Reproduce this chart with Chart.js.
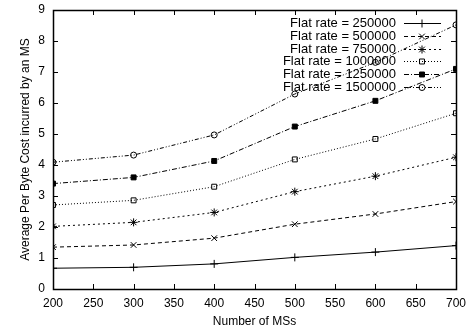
<!DOCTYPE html>
<html>
<head>
<meta charset="utf-8">
<script src="https://cdn.jsdelivr.net/npm/chart.js@4/dist/chart.umd.min.js"></script>
<style>
  html, body { margin: 0; padding: 0; background: #fff; }
  #wrap { width: 471px; height: 332px; }
</style>
</head>
<body>
<div id="wrap"><canvas id="costChart" width="471" height="332"></canvas></div>
<script>
// number of MSs on the x axis
var msCounts = [200, 300, 400, 500, 600, 700];

// average per byte cost, one array per flat rate
var rate250000 = [0.67, 0.70, 0.81, 1.02, 1.19, 1.40];
var rate500000 = [1.35, 1.42, 1.64, 2.09, 2.42, 2.82];
var rate750000 = [2.02, 2.15, 2.47, 3.14, 3.64, 4.25];
var rate1000000 = [2.71, 2.86, 3.30, 4.18, 4.84, 5.67];
var rate1250000 = [3.40, 3.60, 4.13, 5.24, 6.07, 7.10];
var rate1500000 = [4.09, 4.32, 4.97, 6.29, 7.31, 8.52];

var seriesLabels = [
    'Flat rate = 250000',
    'Flat rate = 500000',
    'Flat rate = 750000',
    'Flat rate = 1000000',
    'Flat rate = 1250000',
    'Flat rate = 1500000'
];

var xTicks = [200, 250, 300, 350, 400, 450, 500, 550, 600, 650, 700];
var yTicks = [0, 1, 2, 3, 4, 5, 6, 7, 8, 9];

var FONT = "'Liberation Sans', Arial, Helvetica, sans-serif";

function toPoints(values) {
    return msCounts.map((m, i) => ({ x: m, y: values[i] }));
}

function makeSet(label, values, style, dash, fill, radius) {
    return {
        label: label,
        data: toPoints(values),
        borderColor: '#000',
        borderWidth: 1,
        borderDash: dash,
        pointStyle: style,
        pointRadius: radius,
        pointBorderColor: '#000',
        pointBorderWidth: 1,
        pointBackgroundColor: fill ? '#000' : 'rgba(0,0,0,0)',
        fill: false,
        tension: 0
    };
}

var datasets = [
    makeSet(seriesLabels[0], rate250000, 'cross', [], false, 4),
    makeSet(seriesLabels[1], rate500000, 'crossRot', [4, 3], false, 4),
    makeSet(seriesLabels[2], rate750000, 'star', [2, 3], false, 4),
    makeSet(seriesLabels[3], rate1000000, 'rect', [1, 2], false, 3.5),
    makeSet(seriesLabels[4], rate1250000, 'rect', [5, 2, 1, 2], true, 3.5),
    makeSet(seriesLabels[5], rate1500000, 'circle', [4, 2, 1, 2, 1, 2], false, 3)
];

// box around the plot with gnuplot style inward ticks
var framePlugin = {
    id: 'frame',
    afterDatasetsDraw(chart) {
        var ctx = chart.ctx;
        var a = chart.chartArea;
        var xs = chart.scales.x, ys = chart.scales.y;
        var len = 5;
        ctx.save();
        ctx.strokeStyle = '#000';
        ctx.lineWidth = 1;
        ctx.setLineDash([]);
        ctx.beginPath();
        xTicks.forEach(v => {
            var px = Math.round(xs.getPixelForValue(v)) + 0.5;
            ctx.moveTo(px, a.bottom); ctx.lineTo(px, a.bottom - len);
            ctx.moveTo(px, a.top); ctx.lineTo(px, a.top + len);
        });
        yTicks.forEach(v => {
            var py = Math.round(ys.getPixelForValue(v)) + 0.5;
            ctx.moveTo(a.left, py); ctx.lineTo(a.left + len, py);
            ctx.moveTo(a.right, py); ctx.lineTo(a.right - len, py);
        });
        ctx.stroke();
        ctx.lineWidth = 1.5;
        ctx.strokeRect(Math.round(a.left) + 0.5, Math.round(a.top) + 0.5,
            Math.round(a.right - a.left), Math.round(a.bottom - a.top));
        ctx.restore();
    }
};

// key in the top right corner: text right aligned, sample to its right
var keyPlugin = {
    id: 'key',
    afterDraw(chart) {
        var ctx = chart.ctx;
        var textRight = 396, lineStart = 404, lineEnd = 441, markX = 422;
        var rowY = 23, rowStep = 12.8;
        ctx.save();
        ctx.font = '13px ' + FONT;
        ctx.textAlign = 'right';
        ctx.textBaseline = 'middle';
        chart.data.datasets.forEach((ds, i) => {
            var y = Math.round(rowY + i * rowStep) + 0.5;
            ctx.fillStyle = '#000';
            ctx.fillText(ds.label, textRight, y);
            ctx.strokeStyle = '#000';
            ctx.lineWidth = 1;
            ctx.setLineDash(ds.borderDash);
            ctx.beginPath();
            ctx.moveTo(lineStart, y);
            ctx.lineTo(lineEnd, y);
            ctx.stroke();
            ctx.setLineDash([]);
            ctx.fillStyle = ds.pointBackgroundColor;
            Chart.helpers.drawPoint(ctx, {
                pointStyle: ds.pointStyle,
                radius: ds.pointRadius,
                rotation: 0,
                borderWidth: 1
            }, markX, y);
        });
        ctx.restore();
    }
};

new Chart(document.getElementById('costChart'), {
    type: 'line',
    data: { datasets: datasets },
    options: {
        responsive: false,
        animation: false,
        layout: { padding: { top: 10, right: 15, left: 0, bottom: 0 } },
        plugins: {
            legend: { display: false },
            tooltip: { enabled: false }
        },
        scales: {
            x: {
                type: 'linear',
                min: 200,
                max: 700,
                afterFit: s => { s.height = 43; s.paddingLeft = 0; s.paddingRight = 0; },
                afterBuildTicks: s => { s.ticks = xTicks.map(v => ({ value: v })); },
                grid: { display: false, drawTicks: false },
                border: { display: false },
                ticks: {
                    color: '#000',
                    font: { family: FONT, size: 12 },
                    padding: 7,
                    maxRotation: 0
                },
                title: {
                    display: true,
                    text: 'Number of MSs',
                    color: '#000',
                    font: { family: FONT, size: 12 },
                    padding: { top: 0, bottom: 3 }
                }
            },
            y: {
                min: 0,
                max: 9,
                afterFit: s => { s.width = 53; s.paddingTop = 0; s.paddingBottom = 0; },
                afterBuildTicks: s => { s.ticks = yTicks.map(v => ({ value: v })); },
                grid: { display: false, drawTicks: false },
                border: { display: false },
                ticks: {
                    color: '#000',
                    font: { family: FONT, size: 12 },
                    padding: 8
                },
                title: {
                    display: true,
                    text: 'Average Per Byte Cost incurred by an MS',
                    color: '#000',
                    font: { family: FONT, size: 12 },
                    padding: { top: 18, bottom: 0 }
                }
            }
        }
    },
    plugins: [framePlugin, keyPlugin]
});
</script>
</body>
</html>
